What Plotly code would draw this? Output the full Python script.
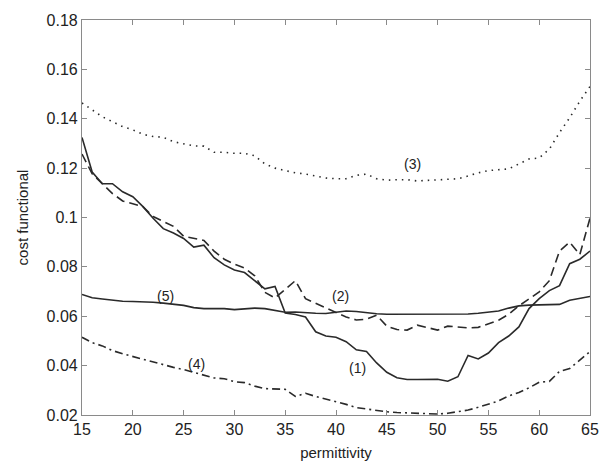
import plotly.graph_objects as go

permittivity = list(range(15, 66))

curve1 = [0.1324, 0.1184, 0.1137, 0.1137, 0.1104, 0.1084, 0.1044, 0.0997, 0.0955, 0.0937,
          0.0915, 0.0880, 0.0888, 0.0837, 0.0808, 0.0787, 0.0777, 0.0744, 0.0711, 0.0721,
          0.0613, 0.0607, 0.0597, 0.0537, 0.0520, 0.0515, 0.0497, 0.0464, 0.0457, 0.0411,
          0.0373, 0.0351, 0.0344, 0.0344, 0.0344, 0.0345, 0.0337, 0.0355, 0.0441, 0.0427,
          0.0451, 0.0493, 0.0520, 0.0557, 0.0631, 0.0671, 0.0704, 0.0724, 0.0813, 0.0831,
          0.0864]
curve2 = [0.1257, 0.1177, 0.1137, 0.1097, 0.1067, 0.1057, 0.1044, 0.1004, 0.0984, 0.0964,
          0.0924, 0.0917, 0.0907, 0.0864, 0.0831, 0.0811, 0.0795, 0.0764, 0.0697, 0.0674,
          0.0711, 0.0744, 0.0671, 0.0653, 0.0635, 0.0617, 0.0597, 0.0585, 0.0588, 0.0604,
          0.0560, 0.0546, 0.0544, 0.0564, 0.0555, 0.0544, 0.0560, 0.0555, 0.0553, 0.0555,
          0.0571, 0.0584, 0.0608, 0.0642, 0.0670, 0.0699, 0.0744, 0.0864, 0.0900, 0.0850,
          0.0997]
curve3 = [0.1464, 0.1437, 0.1408, 0.1388, 0.1368, 0.1355, 0.1337, 0.1328, 0.1325, 0.1307,
          0.1297, 0.1290, 0.1289, 0.1264, 0.1264, 0.1260, 0.1260, 0.1250, 0.1217, 0.1200,
          0.1190, 0.1181, 0.1176, 0.1168, 0.1160, 0.1157, 0.1157, 0.1171, 0.1176, 0.1157,
          0.1151, 0.1153, 0.1153, 0.1148, 0.1150, 0.1152, 0.1155, 0.1157, 0.1168, 0.1181,
          0.1190, 0.1195, 0.1197, 0.1217, 0.1237, 0.1241, 0.1277, 0.1344, 0.1404, 0.1471,
          0.1531]
curve4 = [0.0515, 0.0493, 0.0480, 0.0461, 0.0448, 0.0437, 0.0427, 0.0413, 0.0404, 0.0393,
          0.0384, 0.0373, 0.0364, 0.0350, 0.0347, 0.0335, 0.0331, 0.0317, 0.0307, 0.0305,
          0.0304, 0.0275, 0.0288, 0.0275, 0.0265, 0.0255, 0.0243, 0.0230, 0.0224, 0.0218,
          0.0213, 0.0210, 0.0208, 0.0207, 0.0205, 0.0204, 0.0207, 0.0213, 0.0220, 0.0231,
          0.0245, 0.0257, 0.0277, 0.0291, 0.0310, 0.0333, 0.0336, 0.0377, 0.0388, 0.0424,
          0.0457]
curve5 = [0.0688, 0.0675, 0.0670, 0.0665, 0.0661, 0.0660, 0.0660, 0.0657, 0.0653, 0.0650,
          0.0644, 0.0635, 0.0631, 0.0631, 0.0631, 0.0627, 0.0630, 0.0633, 0.0631, 0.0624,
          0.0616, 0.0617, 0.0613, 0.0612, 0.0611, 0.0617, 0.0621, 0.0619, 0.0613, 0.0610,
          0.0608, 0.0608, 0.0608, 0.0608, 0.0607, 0.0607, 0.0607, 0.0607, 0.0609, 0.0612,
          0.0615, 0.0621, 0.0633, 0.0642, 0.0645, 0.0645, 0.0646, 0.0648, 0.0665, 0.0673,
          0.0680]

labels = ["(1)", "(2)", "(3)", "(4)", "(5)"]
label_x = [42.1, 40.4, 47.5, 26.3, 23.2]
label_y = [0.0392, 0.0684, 0.1217, 0.0408, 0.0684]

x_ticks = [15, 20, 25, 30, 35, 40, 45, 50, 55, 60, 65]
y_ticks = [0.02, 0.04, 0.06, 0.08, 0.10, 0.12, 0.14, 0.16, 0.18]
y_ticktext = ["0.02", "0.04", "0.06", "0.08", "0.1", "0.12", "0.14", "0.16", "0.18"]

line_color = "#2a2a2a"
series = [
    (curve1, "solid"),
    (curve2, "9px,5px"),
    (curve3, "1.5px,5px"),
    (curve4, "8px,4px,2px,4px"),
    (curve5, "solid"),
]

fig = go.Figure()
for vals, dash in series:
    fig.add_trace(go.Scatter(x=permittivity, y=vals, mode="lines",
                             line=dict(color=line_color, width=1.6, dash=dash),
                             showlegend=False, hoverinfo="skip"))

for t, xx, yy in zip(labels, label_x, label_y):
    fig.add_annotation(x=xx, y=yy, text=t, showarrow=False,
                       font=dict(family="Liberation Sans, Arial", size=14, color="#222"))

axis_common = dict(showline=True, linecolor="#8a8a8a", linewidth=1.2, mirror="ticks",
                   ticks="inside", ticklen=5, tickcolor="#8a8a8a", tickwidth=1,
                   showgrid=False, zeroline=False,
                   tickfont=dict(family="Liberation Sans, Arial", size=16, color="#222"))

fig.update_layout(
    width=613, height=471,
    margin=dict(l=82, r=23, t=16, b=55),
    paper_bgcolor="white", plot_bgcolor="white",
    xaxis=dict(range=[15, 65], tickvals=x_ticks, ticktext=[str(v) for v in x_ticks],
               title=dict(text="permittivity", standoff=10,
                          font=dict(family="Liberation Sans, Arial", size=15, color="#222")),
               **axis_common),
    yaxis=dict(range=[0.02, 0.18], tickvals=y_ticks, ticktext=y_ticktext,
               title=dict(text="cost functional", standoff=14,
                          font=dict(family="Liberation Sans, Arial", size=15, color="#222")),
               **axis_common),
)

fig.write_html("out.html")
